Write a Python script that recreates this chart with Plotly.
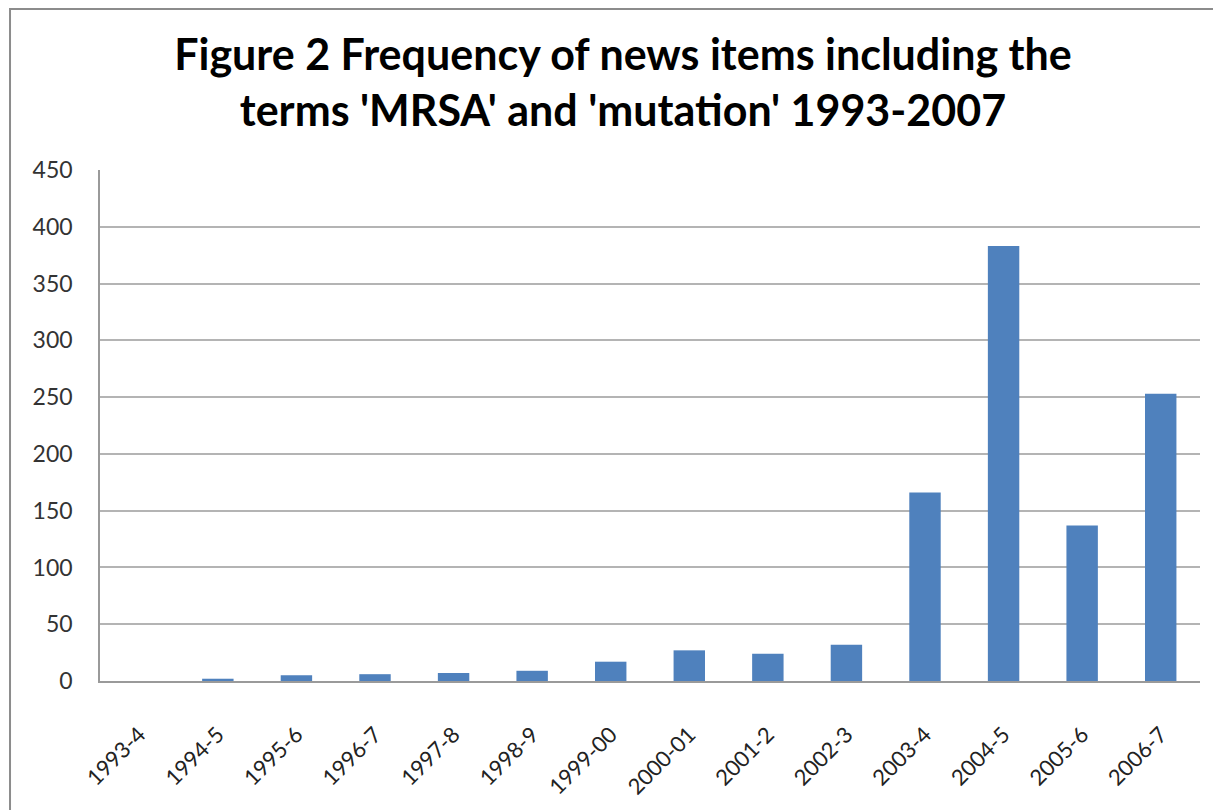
import plotly.graph_objects as go

categories = ["1993-4", "1994-5", "1995-6", "1996-7", "1997-8", "1998-9", "1999-00",
              "2000-01", "2001-2", "2002-3", "2003-4", "2004-5", "2005-6", "2006-7"]
counts = [0, 2, 5, 6, 7, 9, 17, 27, 24, 32, 166, 383, 137, 253]
y_ticks = [0, 50, 100, 150, 200, 250, 300, 350, 400, 450]

title_text = "Figure 2 Frequency of news items including the<br>terms 'MRSA' and 'mutation' 1993-2007"

fig = go.Figure(go.Bar(
    x=categories, y=counts, width=0.4,
    marker=dict(color="#4F81BD", line=dict(width=0)),
))

fig.update_layout(
    width=1213, height=802,
    margin=dict(l=92, r=21, t=162, b=129, autoexpand=False),
    paper_bgcolor="white", plot_bgcolor="white",
    showlegend=False,
    title=dict(text=title_text, x=0.507, xanchor="center", y=0.923, yanchor="middle",
               font=dict(family="Lato, Carlito, Calibri, sans-serif", size=43, color="black",
                         weight="bold")),
    font=dict(family="Lato, Carlito, Calibri, sans-serif", color="#222"),
    bargap=0.6,
    shapes=[dict(type="rect", xref="paper", yref="paper",
                 x0=-0.0818, x1=1.05, y0=-0.4, y1=1.315,
                 line=dict(color="#8C8C8C", width=2), fillcolor="rgba(0,0,0,0)", layer="below")],
)

fig.update_xaxes(
    type="category", tickangle=-45, tickfont=dict(size=22, color="#222"),
    showline=True, linecolor="#9A9A9A", linewidth=2, ticks="", showgrid=False,
    categoryorder="array", categoryarray=categories, ticklabelstandoff=30,
    automargin=False,
)
fig.update_yaxes(
    range=[0, 450], tickvals=y_ticks, tickfont=dict(size=23, color="#333"),
    showgrid=True, gridcolor="#B4B4B4", gridwidth=1.5,
    showline=True, linecolor="#9A9A9A", linewidth=1.5, ticks="",
    zeroline=False, ticklabelstandoff=21, automargin=False,
)

fig.write_html("out.html")
